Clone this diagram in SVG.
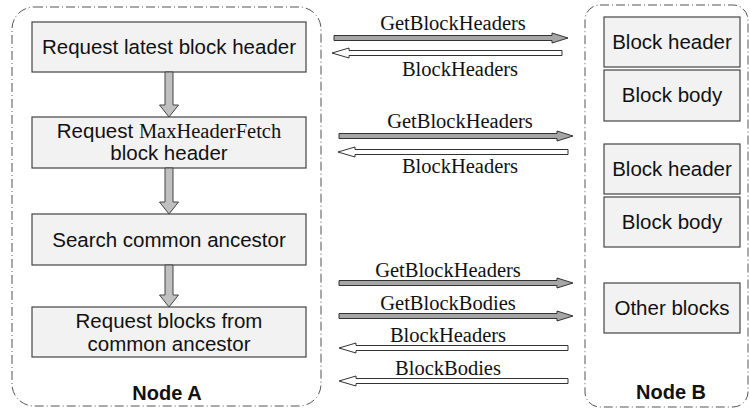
<svg xmlns="http://www.w3.org/2000/svg" width="750" height="410" viewBox="0 0 750 410">
<style>
.container{fill:none;stroke:#555;stroke-width:1;stroke-dasharray:9 3 1 3}
.box{fill:#f2f2f2;stroke:#444;stroke-width:1.2}
.t{font-family:"Liberation Sans",Arial,sans-serif;font-size:20.5px;fill:#111;text-anchor:middle}
.tb{font-family:"Liberation Sans",Arial,sans-serif;font-size:20px;font-weight:bold;fill:#111;text-anchor:middle}
.s{font-family:"Liberation Serif","Times New Roman",serif;font-size:20.5px;fill:#111}
.lbl{font-family:"Liberation Serif","Times New Roman",serif;font-size:20.5px;fill:#111;text-anchor:middle}
.down{fill:#c0c0c0;stroke:#444;stroke-width:1}
.req{fill:#a6a6a6;stroke:#333;stroke-width:1}
.resp{fill:#fff;stroke:#333;stroke-width:1}
</style>
<rect class="container" x="12" y="7" width="309" height="399" rx="22" ry="22"/>
<rect class="container" x="585" y="5" width="163" height="402" rx="15" ry="15"/>
<g id="nodeA-label"><text class="tb" x="167" y="400">Node A</text></g>
<g id="nodeB-label"><text class="tb" x="671" y="399">Node B</text></g>
<g id="a1"><rect class="box" x="32" y="22" width="274" height="50"/><text class="t" x="169" y="54">Request latest block header</text></g>
<g id="a2"><rect class="box" x="32" y="117" width="274" height="51"/><text class="t" x="169" y="138">Request <tspan class="s">MaxHeaderFetch</tspan></text><text class="t" x="169" y="160">block header</text></g>
<g id="a3"><rect class="box" x="32" y="214" width="274" height="51"/><text class="t" x="169" y="247">Search common ancestor</text></g>
<g id="a4"><rect class="box" x="32" y="307" width="274" height="50"/><text class="t" x="169" y="328">Request blocks from</text><text class="t" x="169" y="351">common ancestor</text></g>
<g id="b1"><rect class="box" x="604" y="17" width="136" height="50"/><text class="t" x="672" y="49">Block header</text></g>
<g id="b2"><rect class="box" x="604" y="70" width="136" height="51"/><text class="t" x="672" y="102">Block body</text></g>
<g id="b3"><rect class="box" x="604" y="144" width="136" height="50"/><text class="t" x="672" y="176">Block header</text></g>
<g id="b4"><rect class="box" x="604" y="197" width="136" height="50"/><text class="t" x="672" y="229">Block body</text></g>
<g id="b5"><rect class="box" x="604" y="283" width="136" height="50"/><text class="t" x="672" y="315">Other blocks</text></g>
<g id="connectors">
<polygon class="down" points="165,72 173,72 173,105 178.5,105 169,117 159.5,105 165,105"/>
<polygon class="down" points="165,168 173,168 173,202 178.5,202 169,214 159.5,202 165,202"/>
<polygon class="down" points="165,265 173,265 173,295 178.5,295 169,307 159.5,295 165,295"/>
<polygon class="req" points="334,35.5 552,35.5 552,33 568,38 552,43 552,40.5 334,40.5"/>
<polygon class="resp" points="562,50.5 349,50.5 349,48 332,53 349,58 349,55.5 562,55.5"/>
<polygon class="req" points="339,133.5 557,133.5 557,131 573,136 557,141 557,138.5 339,138.5"/>
<polygon class="resp" points="568,149.5 355,149.5 355,147 338,152 355,157 355,154.5 568,154.5"/>
<polygon class="req" points="339,280.5 557,280.5 557,278 573,283 557,288 557,285.5 339,285.5"/>
<polygon class="req" points="339,313.5 557,313.5 557,311 573,316 557,321 557,318.5 339,318.5"/>
<polygon class="resp" points="568,345.5 356,345.5 356,343 339,348 356,353 356,350.5 568,350.5"/>
<polygon class="resp" points="568,378.5 356,378.5 356,376 339,381 356,386 356,383.5 568,383.5"/>
<text class="lbl" x="453" y="30">GetBlockHeaders</text>
<text class="lbl" x="460" y="76">BlockHeaders</text>
<text class="lbl" x="460" y="128">GetBlockHeaders</text>
<text class="lbl" x="460" y="173">BlockHeaders</text>
<text class="lbl" x="448" y="277">GetBlockHeaders</text>
<text class="lbl" x="448" y="310">GetBlockBodies</text>
<text class="lbl" x="448" y="342">BlockHeaders</text>
<text class="lbl" x="448" y="375">BlockBodies</text>
</g>
</svg>
